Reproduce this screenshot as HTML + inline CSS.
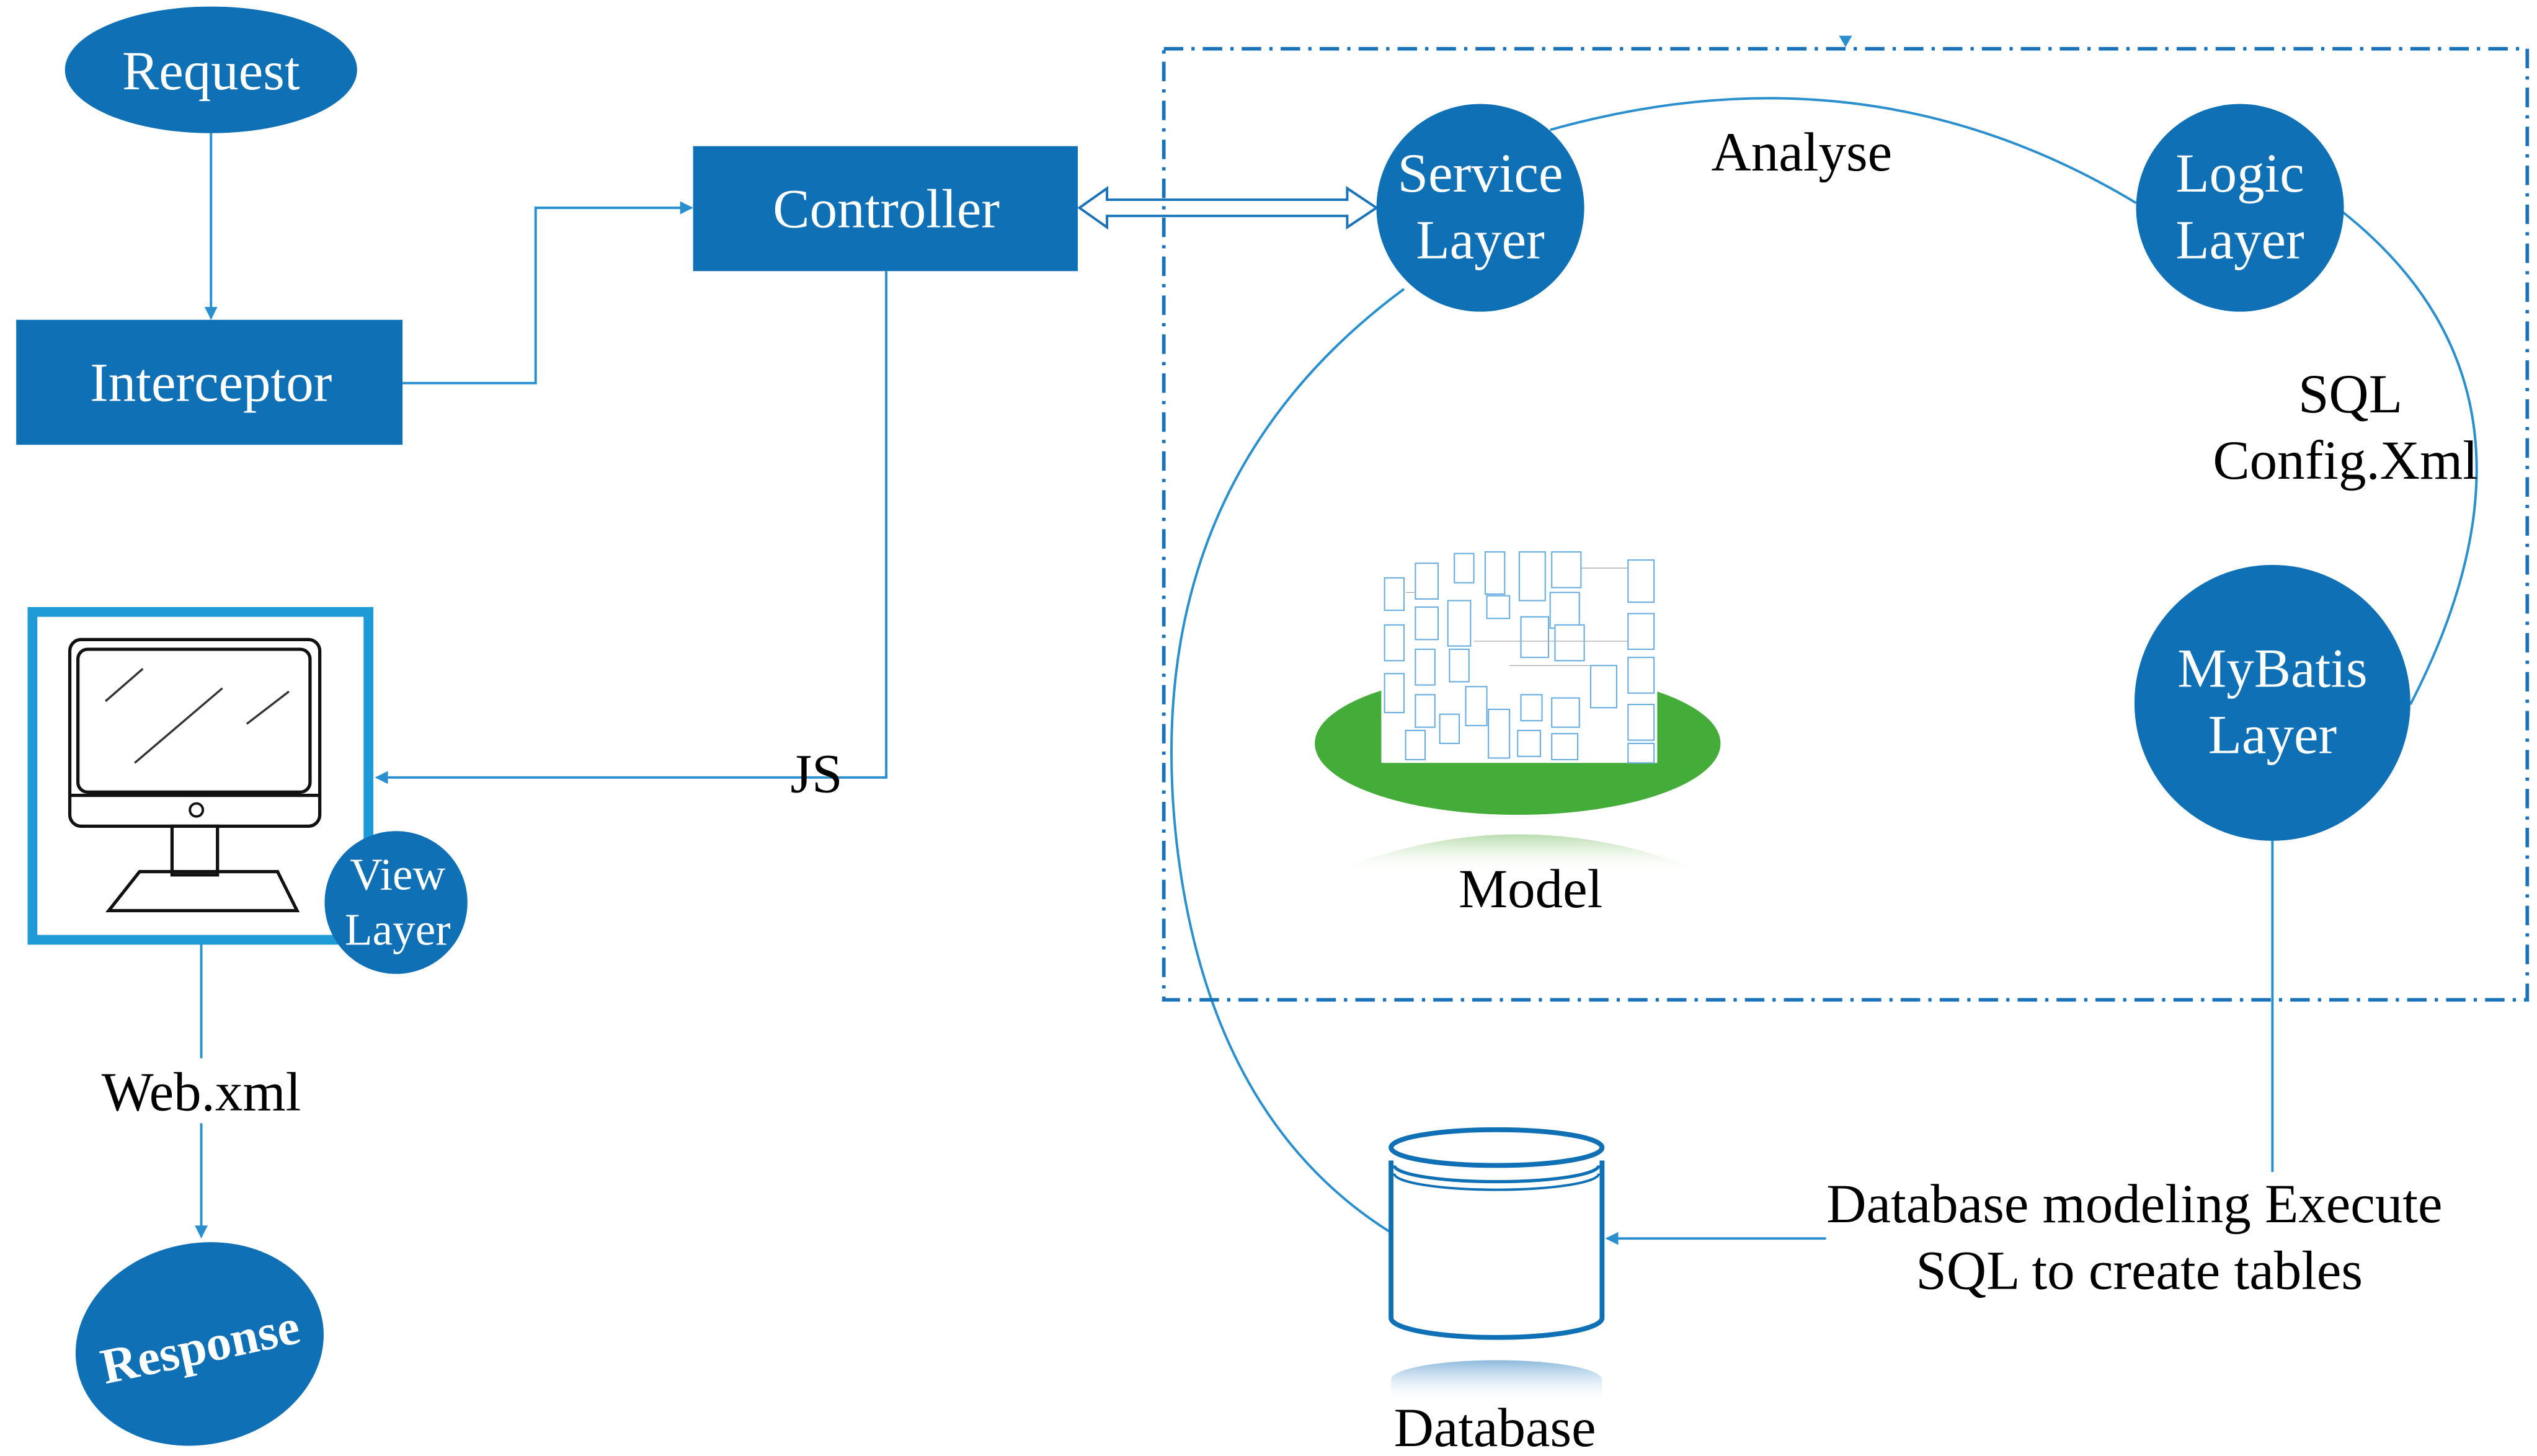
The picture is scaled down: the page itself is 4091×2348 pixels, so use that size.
<!DOCTYPE html>
<html><head><meta charset="utf-8"><style>html,body{margin:0;padding:0;background:#fff}svg{display:block}</style></head><body>
<svg width="4091" height="2348" viewBox="0 0 1563 897" xmlns="http://www.w3.org/2000/svg" font-family="Liberation Serif, serif">
<defs>
<marker id="ar" markerWidth="8" markerHeight="8" refX="7" refY="4" orient="auto" markerUnits="userSpaceOnUse"><path d="M0,0 L8,4 L0,8 z" fill="#2a8fcf"/></marker>
<linearGradient id="refl" x1="0" y1="0" x2="0" y2="1"><stop offset="0" stop-color="#8cc47a" stop-opacity="0.6"/><stop offset="1" stop-color="#fff" stop-opacity="0"/></linearGradient>
<linearGradient id="refl2" x1="0" y1="0" x2="0" y2="1"><stop offset="0" stop-color="#1a73b8" stop-opacity="0.5"/><stop offset="1" stop-color="#fff" stop-opacity="0"/></linearGradient>
</defs>
<g stroke="#2a8fcf" stroke-width="1.5" fill="none">
<line x1="130" y1="82" x2="130" y2="196" marker-end="url(#ar)"/>
<polyline points="248,236 330,236 330,128 426,128" marker-end="url(#ar)"/>
<polyline points="546,167 546,479 232,479" marker-end="url(#ar)"/>
<line x1="124" y1="581" x2="124" y2="652"/>
<line x1="124" y1="692" x2="124" y2="762" marker-end="url(#ar)"/>
<line x1="1400" y1="518" x2="1400" y2="722"/>
<polyline points="1125,763 990,763" marker-end="url(#ar)"/>
<path d="M955,80 Q1150,25 1316,125"/>
<path d="M1440,128 Q1585,240 1485,434"/>
<path d="M865,178 Q700,300 725,520 Q745,690 858,760"/>
</g>
<path d="M665,128 L682,116 L682,123 L830,123 L830,116 L848,128 L830,140 L830,133 L682,133 L682,140 Z" fill="#fff" stroke="#1a73b8" stroke-width="1.5"/>
<rect x="717" y="30" width="840" height="586" fill="none" stroke="#1a73b8" stroke-width="2.2" stroke-dasharray="12,5,2,5"/>
<path d="M1133,22 L1141,22 L1137,29 z" fill="#2a8fcf"/>
<g fill="#0f70b5">
<ellipse cx="130" cy="43" rx="90" ry="39"/>
<rect x="10" y="197" width="238" height="77"/>
<rect x="427" y="90" width="237" height="77"/>
<ellipse cx="123" cy="828" rx="77" ry="62" transform="rotate(-12 123 828)"/>
<circle cx="912" cy="128" r="64"/>
<circle cx="1380" cy="128" r="64"/>
<circle cx="1400" cy="433" r="85"/>
</g>
<g fill="#fff" font-size="34" text-anchor="middle">
<text x="130" y="55">Request</text>
<text x="130" y="247">Interceptor</text>
<text x="546" y="140">Controller</text>
<text x="912" y="118">Service</text><text x="912" y="159">Layer</text>
<text x="1380" y="118">Logic</text><text x="1380" y="159">Layer</text>
<text x="1400" y="423">MyBatis</text><text x="1400" y="464">Layer</text>
<text x="123" y="840" font-weight="bold" font-size="31" transform="rotate(-12 123 828)">Response</text>
</g>
<rect x="20" y="377" width="207" height="202" fill="#fff" stroke="#1e9ad6" stroke-width="6"/>
<g fill="none" stroke="#111" stroke-width="2">
<rect x="43" y="394" width="154" height="115" rx="7"/>
<rect x="48" y="400" width="143" height="88" rx="6"/>
<line x1="43" y1="490" x2="197" y2="490"/>
<circle cx="121" cy="499" r="4" stroke-width="1.5"/>
<rect x="106" y="509" width="28" height="30"/>
<path d="M86,537 L171,537 L183,561 L67,561 Z"/>
</g>
<g stroke="#333" stroke-width="1.3"><line x1="65" y1="432" x2="88" y2="412"/><line x1="83" y1="470" x2="137" y2="424"/><line x1="152" y1="446" x2="178" y2="426"/></g>
<circle cx="244" cy="556" r="44" fill="#0f70b5"/>
<g fill="#fff" font-size="28" text-anchor="middle"><text x="245" y="548">View</text><text x="245" y="582">Layer</text></g>
<g fill="#000" font-size="34" text-anchor="middle">
<text x="503" y="488">JS</text>
<text x="124" y="684">Web.xml</text>
<text x="1110" y="105">Analyse</text>
<text x="1448" y="254">SQL</text>
<text x="1445" y="295">Config.Xml</text>
<text x="943" y="559">Model</text>
<text x="1315" y="753">Database modeling Execute</text>
<text x="1318" y="794">SQL to create tables</text>
<text x="921" y="891">Database</text>
</g>
<ellipse cx="935" cy="458" rx="125" ry="44" fill="#44ad3a"/>
<path d="M820,538 Q935,490 1052,538 Z" fill="url(#refl)"/>
<rect x="851" y="340" width="170" height="130" fill="#fff"/>
<g fill="#fff" stroke="#6aaee0" stroke-width="0.8">
<rect x="853" y="356" width="12" height="20"/><rect x="872" y="347" width="14" height="22"/><rect x="896" y="341" width="12" height="18"/><rect x="915" y="340" width="12" height="26"/><rect x="936" y="340" width="16" height="30"/><rect x="956" y="340" width="18" height="22"/><rect x="1003" y="345" width="16" height="26"/>
<rect x="853" y="385" width="12" height="22"/><rect x="872" y="374" width="14" height="20"/><rect x="892" y="370" width="14" height="28"/><rect x="916" y="367" width="14" height="14"/><rect x="955" y="365" width="18" height="22"/><rect x="1003" y="378" width="16" height="22"/>
<rect x="872" y="400" width="12" height="22"/><rect x="893" y="400" width="12" height="20"/><rect x="937" y="380" width="17" height="25"/><rect x="958" y="385" width="18" height="22"/><rect x="1003" y="405" width="16" height="22"/>
<rect x="853" y="415" width="12" height="24"/><rect x="872" y="428" width="12" height="20"/><rect x="903" y="423" width="13" height="24"/><rect x="917" y="437" width="13" height="30"/><rect x="937" y="428" width="13" height="16"/><rect x="956" y="430" width="17" height="18"/><rect x="980" y="410" width="16" height="26"/><rect x="1003" y="434" width="16" height="22"/>
<rect x="866" y="450" width="12" height="18"/><rect x="887" y="440" width="12" height="18"/><rect x="935" y="450" width="14" height="16"/><rect x="956" y="452" width="16" height="16"/><rect x="1003" y="458" width="16" height="12"/>
</g>
<g stroke="#aaa" stroke-width="0.5" fill="none"><line x1="866" y1="365" x2="872" y2="365"/><line x1="908" y1="395" x2="1003" y2="395"/><line x1="930" y1="410" x2="980" y2="410"/><line x1="974" y1="350" x2="1003" y2="350"/></g>
<path d="M857,715 L857,812 A65,12 0 0 0 987,812 L987,715" fill="#fff" stroke="#0f70b5" stroke-width="3"/>
<ellipse cx="922" cy="707" rx="65" ry="11" fill="#fff" stroke="#0f70b5" stroke-width="3"/>
<path d="M859,718 A63,10 0 0 0 985,718" fill="none" stroke="#0f70b5" stroke-width="2"/>
<path d="M859,723 A63,10 0 0 0 985,723" fill="none" stroke="#0f70b5" stroke-width="1.5"/>
<path d="M857,865 L857,850 A65,12 0 0 1 987,850 L987,865 Z" fill="url(#refl2)"/>
</svg>
</body></html>
